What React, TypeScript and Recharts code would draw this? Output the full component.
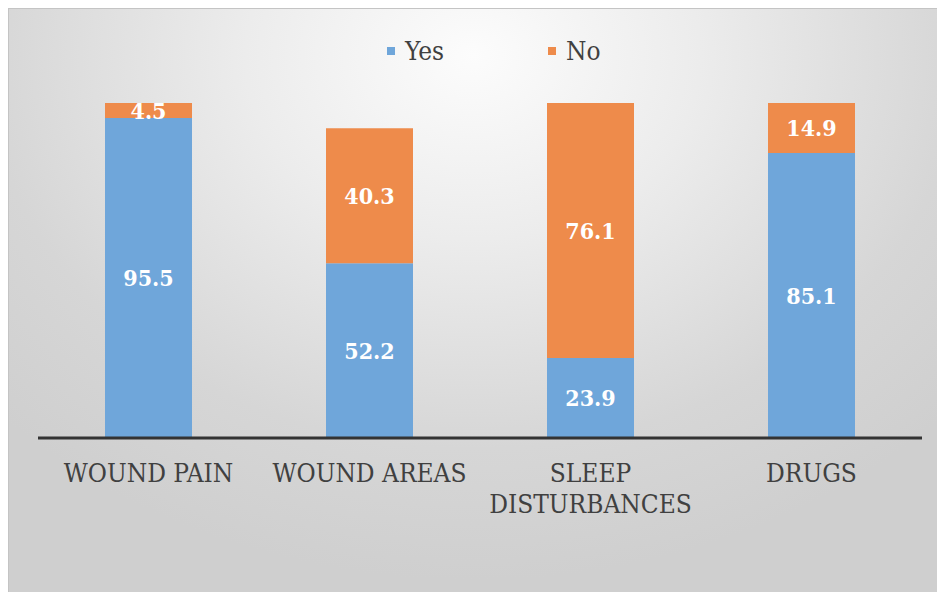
import { BarChart, Bar, XAxis, YAxis, LabelList } from "recharts";

const categories = ["WOUND PAIN", "WOUND AREAS", "SLEEP DISTURBANCES", "DRUGS"];
const yesValues = [95.5, 52.2, 23.9, 85.1];
const noValues = [4.5, 40.3, 76.1, 14.9];
const seriesNames = ["Yes", "No"];

const BLUE = "#6FA6DA";
const ORANGE = "#EE8B4B";
const FONT = "'DejaVu Serif Condensed', 'DejaVu Serif', serif";

const chartData = categories.map((c, i) => ({
  name: c,
  Yes: yesValues[i],
  No: noValues[i],
}));

function CategoryTick(props: any) {
  const { x, y, payload } = props;
  const text: string = payload.value;
  const lines = text.length > 12 ? text.split(" ") : [text];
  return (
    <text
      x={x}
      y={y}
      textAnchor="middle"
      fill="#404040"
      fontFamily={FONT}
      fontSize={26}
      style={{ fontStretch: "condensed" }}
    >
      {lines.map((l, i) => (
        <tspan key={i} x={x} dy={i === 0 ? 36 : 31}>
          {l}
        </tspan>
      ))}
    </text>
  );
}

function LegendBox() {
  const colors = [BLUE, ORANGE];
  const lefts = [378, 539];
  return (
    <>
      {seriesNames.map((n, i) => (
        <div
          key={n}
          style={{
            position: "absolute",
            top: 26,
            left: lefts[i],
            display: "flex",
            alignItems: "center",
            fontFamily: FONT,
            fontStretch: "condensed",
            fontSize: 26,
            color: "#404040",
            lineHeight: "32px",
          }}
        >
          <span
            style={{
              display: "inline-block",
              width: 8,
              height: 8,
              background: colors[i],
              marginRight: 10,
            }}
          />
          <span>{n}</span>
        </div>
      ))}
    </>
  );
}

export default function App() {
  return (
    <div
      style={{
        position: "absolute",
        left: 8,
        top: 8,
        width: 929,
        height: 584,
        boxSizing: "border-box",
        borderTop: "1px solid #c4c4c4",
        borderLeft: "1px solid #c4c4c4",
        background:
          "radial-gradient(ellipse 70% 90% at 50% 8%, #fcfcfc 0%, #ececec 35%, #d6d6d6 75%, #cfcfcf 100%)",
      }}
    >
      <LegendBox />
      <BarChart
        width={929}
        height={584}
        data={chartData}
        margin={{ top: 94, right: 16, bottom: 55, left: 29 }}
        barCategoryGap={67}
      >
        <XAxis
          dataKey="name"
          tickLine={false}
          axisLine={{ stroke: "#333333", strokeWidth: 3 }}
          height={100}
          interval={0}
          tick={<CategoryTick />}
        />
        <YAxis hide type="number" domain={[0, 100]} allowDataOverflow />
        <Bar dataKey="Yes" stackId="a" fill={BLUE} barSize={87} isAnimationActive={false}>
          <LabelList
            dataKey="Yes"
            position="center"
            fill="#ffffff"
            fontFamily={FONT}
            fontSize={23}
            fontWeight="bold"
            style={{ fontStretch: "condensed" }}
          />
        </Bar>
        <Bar dataKey="No" stackId="a" fill={ORANGE} barSize={87} isAnimationActive={false}>
          <LabelList
            dataKey="No"
            position="center"
            fill="#ffffff"
            fontFamily={FONT}
            fontSize={23}
            fontWeight="bold"
            style={{ fontStretch: "condensed" }}
          />
        </Bar>
      </BarChart>
    </div>
  );
}
